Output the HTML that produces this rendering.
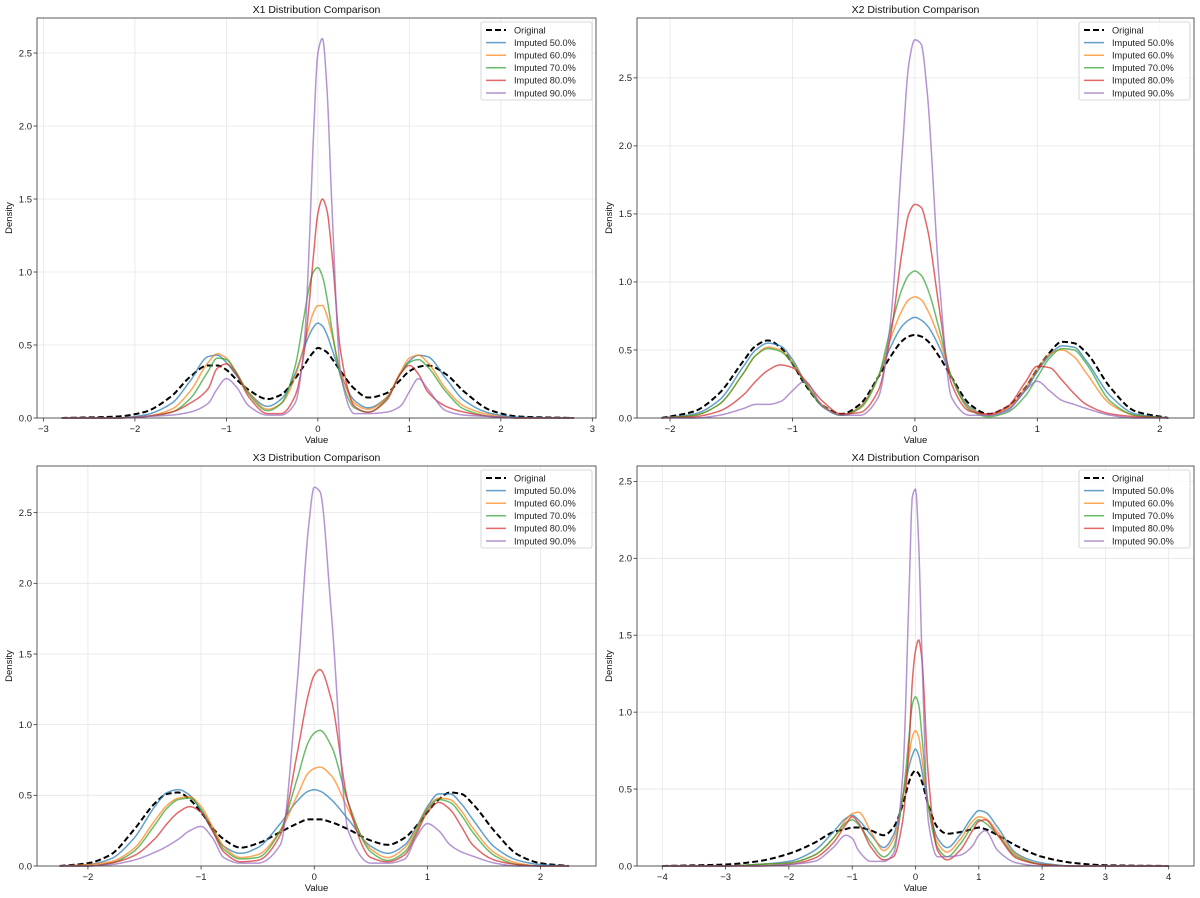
<!DOCTYPE html>
<html><head><meta charset="utf-8"><style>
html,body{margin:0;padding:0;background:#fff;}
svg{display:block;font-family:"Liberation Sans","DejaVu Sans",sans-serif;}
</style></head><body>
<svg id="chart" width="1200" height="898" viewBox="0 0 1200 898" xmlns="http://www.w3.org/2000/svg"></svg>
<script>
const seriesNames = ["Original","Imputed 50.0%","Imputed 60.0%","Imputed 70.0%","Imputed 80.0%","Imputed 90.0%"];
const panelTitles = ["X1 Distribution Comparison","X2 Distribution Comparison","X3 Distribution Comparison","X4 Distribution Comparison"];

const x1Grid = [-2.8,-2.2,-1.9,-1.6,-1.4,-1.2,-1.1,-1.0,-0.9,-0.75,-0.55,-0.4,-0.25,-0.15,-0.1,-0.05,0,0.05,0.1,0.15,0.25,0.4,0.55,0.75,0.9,1.0,1.1,1.2,1.4,1.6,1.9,2.2,2.8];
const x1Original = [0,0.01,0.04,0.15,0.28,0.36,0.36,0.33,0.27,0.19,0.13,0.16,0.27,0.36,0.41,0.45,0.48,0.47,0.45,0.41,0.32,0.2,0.14,0.17,0.26,0.32,0.35,0.36,0.30,0.18,0.05,0.01,0];
const x1Imp50 = [0,0,0.02,0.1,0.25,0.42,0.43,0.38,0.3,0.17,0.08,0.13,0.3,0.48,0.56,0.62,0.65,0.63,0.57,0.48,0.3,0.12,0.07,0.14,0.3,0.39,0.43,0.42,0.27,0.12,0.03,0.005,0];
const x1Imp60 = [0,0,0.01,0.06,0.18,0.38,0.44,0.41,0.32,0.17,0.06,0.1,0.28,0.5,0.62,0.72,0.77,0.77,0.7,0.58,0.32,0.1,0.06,0.14,0.31,0.41,0.43,0.38,0.2,0.08,0.02,0,0];
const x1Imp70 = [0,0,0.01,0.04,0.13,0.32,0.41,0.40,0.32,0.16,0.05,0.1,0.35,0.7,0.88,1.0,1.03,0.97,0.82,0.62,0.28,0.07,0.04,0.13,0.3,0.38,0.40,0.35,0.18,0.06,0.01,0,0];
const x1Imp80 = [0,0,0.01,0.04,0.1,0.2,0.34,0.37,0.31,0.14,0.03,0.03,0.15,0.45,0.75,1.1,1.4,1.5,1.42,1.15,0.45,0.08,0.04,0.12,0.3,0.36,0.3,0.18,0.08,0.04,0.01,0,0];
const x1Imp90 = [0,0,0.01,0.02,0.04,0.1,0.2,0.27,0.22,0.08,0.02,0.02,0.1,0.5,1.1,1.9,2.5,2.6,2.25,1.5,0.3,0.03,0.03,0.04,0.08,0.18,0.27,0.2,0.05,0.02,0.01,0,0];

const x2Grid = [-2.07,-1.8,-1.6,-1.4,-1.3,-1.2,-1.1,-1.0,-0.9,-0.75,-0.6,-0.45,-0.3,-0.2,-0.1,-0.05,0,0.05,0.1,0.2,0.3,0.45,0.6,0.75,0.9,1.0,1.1,1.2,1.3,1.4,1.6,1.8,2.07];
const x2Original = [0,0.05,0.18,0.42,0.53,0.57,0.52,0.40,0.25,0.09,0.03,0.1,0.3,0.45,0.57,0.6,0.61,0.6,0.57,0.45,0.3,0.1,0.03,0.08,0.22,0.36,0.48,0.56,0.55,0.48,0.22,0.05,0];
const x2Imp50 = [0,0.03,0.13,0.38,0.5,0.55,0.53,0.43,0.27,0.09,0.02,0.08,0.3,0.52,0.68,0.72,0.74,0.72,0.68,0.52,0.3,0.08,0.02,0.06,0.2,0.34,0.46,0.53,0.52,0.42,0.16,0.03,0];
const x2Imp60 = [0,0.02,0.1,0.33,0.46,0.52,0.5,0.41,0.27,0.09,0.02,0.08,0.3,0.58,0.8,0.87,0.89,0.87,0.8,0.58,0.3,0.07,0.02,0.07,0.22,0.36,0.47,0.5,0.45,0.33,0.1,0.02,0];
const x2Imp70 = [0,0.02,0.1,0.33,0.46,0.51,0.49,0.40,0.26,0.08,0.02,0.07,0.3,0.65,0.96,1.05,1.08,1.05,0.96,0.65,0.3,0.06,0.01,0.04,0.16,0.3,0.44,0.51,0.5,0.4,0.12,0.02,0];
const x2Imp80 = [0,0.01,0.05,0.17,0.27,0.35,0.39,0.37,0.28,0.12,0.03,0.04,0.2,0.6,1.25,1.5,1.57,1.55,1.4,0.8,0.25,0.05,0.03,0.08,0.26,0.38,0.37,0.28,0.18,0.1,0.03,0.01,0];
const x2Imp90 = [0,0,0.02,0.07,0.1,0.1,0.12,0.2,0.27,0.08,0.02,0.02,0.15,0.7,2.0,2.6,2.78,2.75,2.4,1.0,0.15,0.02,0.02,0.05,0.2,0.27,0.2,0.13,0.1,0.07,0.02,0,0];

const x3Grid = [-2.25,-2.0,-1.8,-1.6,-1.4,-1.3,-1.2,-1.1,-1.0,-0.9,-0.8,-0.65,-0.5,-0.3,-0.15,-0.05,0,0.05,0.15,0.3,0.5,0.65,0.8,0.9,1.0,1.1,1.2,1.3,1.4,1.6,1.8,2.0,2.25];
const x3Original = [0,0.02,0.08,0.25,0.45,0.51,0.52,0.47,0.38,0.27,0.19,0.13,0.16,0.24,0.3,0.33,0.33,0.33,0.31,0.26,0.18,0.15,0.2,0.28,0.38,0.47,0.52,0.51,0.44,0.24,0.08,0.02,0];
const x3Imp50 = [0,0.01,0.05,0.19,0.43,0.52,0.54,0.5,0.39,0.25,0.14,0.09,0.13,0.3,0.46,0.53,0.54,0.53,0.47,0.33,0.14,0.09,0.15,0.27,0.42,0.51,0.51,0.44,0.33,0.13,0.04,0.01,0];
const x3Imp60 = [0,0.01,0.03,0.12,0.33,0.43,0.48,0.49,0.42,0.28,0.14,0.06,0.08,0.25,0.5,0.66,0.69,0.7,0.64,0.4,0.12,0.06,0.13,0.26,0.41,0.48,0.47,0.39,0.27,0.09,0.02,0,0];
const x3Imp70 = [0,0,0.02,0.1,0.3,0.41,0.47,0.48,0.4,0.26,0.12,0.05,0.06,0.25,0.62,0.88,0.94,0.96,0.85,0.45,0.1,0.04,0.1,0.24,0.4,0.47,0.45,0.36,0.24,0.07,0.01,0,0];
const x3Imp80 = [0,0,0.02,0.07,0.2,0.3,0.38,0.42,0.38,0.25,0.1,0.03,0.04,0.22,0.8,1.22,1.35,1.39,1.18,0.45,0.06,0.03,0.08,0.22,0.38,0.45,0.4,0.28,0.15,0.04,0.01,0,0];
const x3Imp90 = [0,0,0.01,0.04,0.1,0.14,0.19,0.25,0.28,0.2,0.06,0.02,0.02,0.15,1.3,2.4,2.68,2.65,1.8,0.25,0.02,0.02,0.05,0.2,0.3,0.25,0.15,0.1,0.07,0.02,0,0,0];

const x4Grid = [-4,-3,-2.5,-2,-1.6,-1.3,-1.1,-1.0,-0.9,-0.7,-0.5,-0.35,-0.2,-0.1,-0.05,0,0.05,0.1,0.2,0.35,0.5,0.7,0.9,1.0,1.1,1.3,1.6,2,2.5,3,4];
const x4Original = [0,0.01,0.03,0.08,0.15,0.22,0.24,0.25,0.25,0.23,0.2,0.25,0.4,0.55,0.6,0.62,0.6,0.55,0.4,0.25,0.21,0.22,0.24,0.25,0.24,0.2,0.13,0.06,0.02,0.005,0];
const x4Imp50 = [0,0,0.01,0.03,0.1,0.22,0.31,0.33,0.3,0.2,0.12,0.2,0.45,0.65,0.72,0.76,0.72,0.62,0.4,0.18,0.12,0.2,0.32,0.36,0.35,0.25,0.08,0.02,0,0,0];
const x4Imp60 = [0,0,0.01,0.02,0.07,0.18,0.3,0.34,0.35,0.22,0.1,0.17,0.45,0.72,0.84,0.88,0.84,0.7,0.4,0.15,0.09,0.17,0.29,0.32,0.31,0.22,0.07,0.01,0,0,0];
const x4Imp70 = [0,0,0.01,0.02,0.07,0.18,0.28,0.3,0.27,0.15,0.06,0.12,0.45,0.85,1.05,1.1,1.05,0.85,0.4,0.12,0.06,0.14,0.26,0.3,0.28,0.2,0.06,0.01,0,0,0];
const x4Imp80 = [0,0,0,0.01,0.05,0.15,0.27,0.32,0.28,0.12,0.04,0.06,0.3,0.8,1.2,1.4,1.47,1.35,0.6,0.1,0.04,0.1,0.23,0.29,0.3,0.2,0.05,0.01,0,0,0];
const x4Imp90 = [0,0,0,0.01,0.03,0.12,0.2,0.18,0.1,0.03,0.03,0.08,0.6,1.8,2.4,2.45,2.1,1.4,0.3,0.06,0.06,0.07,0.13,0.2,0.23,0.1,0.02,0,0,0,0];

const xTicks1 = [-3,-2,-1,0,1,2,3];
const xTicks2 = [-2,-1,0,1,2];
const xTicks3 = [-2,-1,0,1,2];
const xTicks4 = [-4,-3,-2,-1,0,1,2,3,4];
const yTicks = [0,0.5,1.0,1.5,2.0,2.5];

const colors = ["#000","#1f77b4","#ff7f0e","#2ca02c","#d62728","#9467bd"];
const NS = "http://www.w3.org/2000/svg";
const svg = document.getElementById("chart");
function mk(tag, attrs, parent){const e=document.createElementNS(NS,tag);for(const k in attrs)e.setAttribute(k,attrs[k]);(parent||svg).appendChild(e);return e;}

const panels = [
 {grid:x1Grid, ser:[x1Original,x1Imp50,x1Imp60,x1Imp70,x1Imp80,x1Imp90], ticks:xTicks1, L:37,R:596,T:18,B:418, xmin:-3.07,xmax:3.04,ymax:2.74},
 {grid:x2Grid, ser:[x2Original,x2Imp50,x2Imp60,x2Imp70,x2Imp80,x2Imp90], ticks:xTicks2, L:637,R:1194,T:18,B:418, xmin:-2.27,xmax:2.28,ymax:2.94},
 {grid:x3Grid, ser:[x3Original,x3Imp50,x3Imp60,x3Imp70,x3Imp80,x3Imp90], ticks:xTicks3, L:37,R:596,T:466,B:866, xmin:-2.45,xmax:2.49,ymax:2.83},
 {grid:x4Grid, ser:[x4Original,x4Imp50,x4Imp60,x4Imp70,x4Imp80,x4Imp90], ticks:xTicks4, L:637,R:1194,T:466,B:866, xmin:-4.4,xmax:4.4,ymax:2.6}
];

function monotone(xs, ys){
  const n=xs.length, d=[], m=new Array(n).fill(0);
  for(let i=0;i<n-1;i++) d.push((ys[i+1]-ys[i])/(xs[i+1]-xs[i]));
  m[0]=d[0]; m[n-1]=d[n-2];
  for(let i=1;i<n-1;i++){ if(d[i-1]*d[i]<=0) m[i]=0; else { const w1=2*(xs[i+1]-xs[i])+(xs[i]-xs[i-1]), w2=(xs[i+1]-xs[i])+2*(xs[i]-xs[i-1]); m[i]=(w1+w2)/(w1/d[i-1]+w2/d[i]); } }
  return function(x){
    let i=0; while(i<n-2 && x>xs[i+1]) i++;
    const h=xs[i+1]-xs[i], t=(x-xs[i])/h, t2=t*t, t3=t2*t;
    return (2*t3-3*t2+1)*ys[i]+(t3-2*t2+t)*h*m[i]+(-2*t3+3*t2)*ys[i+1]+(t3-t2)*h*m[i+1];
  };
}

panels.forEach((p,pi)=>{
  const g = mk("g",{});
  
  
  const sx = v => p.L + (v-p.xmin)/(p.xmax-p.xmin)*(p.R-p.L);
  const sy = v => p.B - v/p.ymax*(p.B-p.T);
  // grid
  p.ticks.forEach(t=>{ const l=mk("line",{x1:sx(t),x2:sx(t),y1:p.T,y2:p.B,stroke:"#e6e6e6","stroke-width":0.8},g);
      });
  yTicks.filter(t=>t<=p.ymax).forEach(t=>{ const l=mk("line",{x1:p.L,x2:p.R,y1:sy(t),y2:sy(t),stroke:"#e6e6e6","stroke-width":0.8},g);
      });
  // series
  p.ser.forEach((ys,si)=>{
    const f = monotone(p.grid, ys);
    const x0=p.grid[0], x1=p.grid[p.grid.length-1];
    let dstr="";
    for(let k=0;k<=600;k++){ const x=x0+(x1-x0)*k/600; const y=Math.max(0,f(x)); dstr+=(k?"L":"M")+sx(x).toFixed(2)+","+sy(y).toFixed(2); }
    const path = mk("path",{d:dstr,fill:"none",stroke:colors[si],"stroke-width":si===0?2:1.5,"stroke-opacity":si===0?1:0.7,"stroke-dasharray":si===0?"6,3":"none","stroke-linejoin":"round"},g);
    
    
  });
  // frame
  const fr = mk("rect",{x:p.L,y:p.T,width:p.R-p.L,height:p.B-p.T,fill:"none",stroke:"#333","stroke-width":0.8},g);
   
  // ticks
  p.ticks.forEach(t=>{
    mk("line",{x1:sx(t),x2:sx(t),y1:p.B,y2:p.B+3.5,stroke:"#333","stroke-width":0.8},g);
    const tx = mk("text",{x:sx(t),y:p.B+14,"font-size":9.5,"text-anchor":"middle",fill:"#222"},g);
    tx.textContent = t<0 ? "\u2212"+(-t) : String(t);
     
  });
  yTicks.filter(t=>t<=p.ymax).forEach(t=>{
    mk("line",{x1:p.L-3.5,x2:p.L,y1:sy(t),y2:sy(t),stroke:"#333","stroke-width":0.8},g);
    const tx = mk("text",{x:p.L-5,y:sy(t)+3.3,"font-size":9.5,"text-anchor":"end",fill:"#222"},g);
    tx.textContent = t.toFixed(1);
     
  });
  const ti = mk("text",{x:(p.L+p.R)/2,y:p.T-5,"font-size":10.5,"text-anchor":"middle",fill:"#111"},g);
  ti.textContent = panelTitles[pi];
   
  const xl = mk("text",{x:(p.L+p.R)/2,y:p.B+25,"font-size":9.5,"text-anchor":"middle",fill:"#111"},g);
  xl.textContent = "Value";
   
  const yl = mk("text",{x:0,y:0,"font-size":9.5,"text-anchor":"middle",fill:"#111",transform:"translate("+(p.L-25)+","+((p.T+p.B)/2)+") rotate(-90)"},g);
  yl.textContent = "Density";
   
  // legend
  const lw=p.R-p.L>0?111:111, lx=p.R-4-lw, ly=p.T+4;
  const lg = mk("g",{},g);
   
  mk("rect",{x:lx,y:ly,width:lw,height:78,rx:2,fill:"#fff","fill-opacity":0.8,stroke:"#ccc","stroke-width":0.8},lg);
  seriesNames.forEach((nm,si)=>{
    const yy = ly+8+si*12.6;
    const ln = mk("line",{x1:lx+5,x2:lx+25,y1:yy,y2:yy,stroke:colors[si],"stroke-width":si===0?2:1.5,"stroke-opacity":si===0?1:0.7,"stroke-dasharray":si===0?"6,3":"none"},lg);
     
    const tx = mk("text",{x:lx+33,y:yy+3.3,"font-size":9.2,fill:"#222"},lg);
    tx.textContent = nm;
     
  });
});
</script>
</body></html>
